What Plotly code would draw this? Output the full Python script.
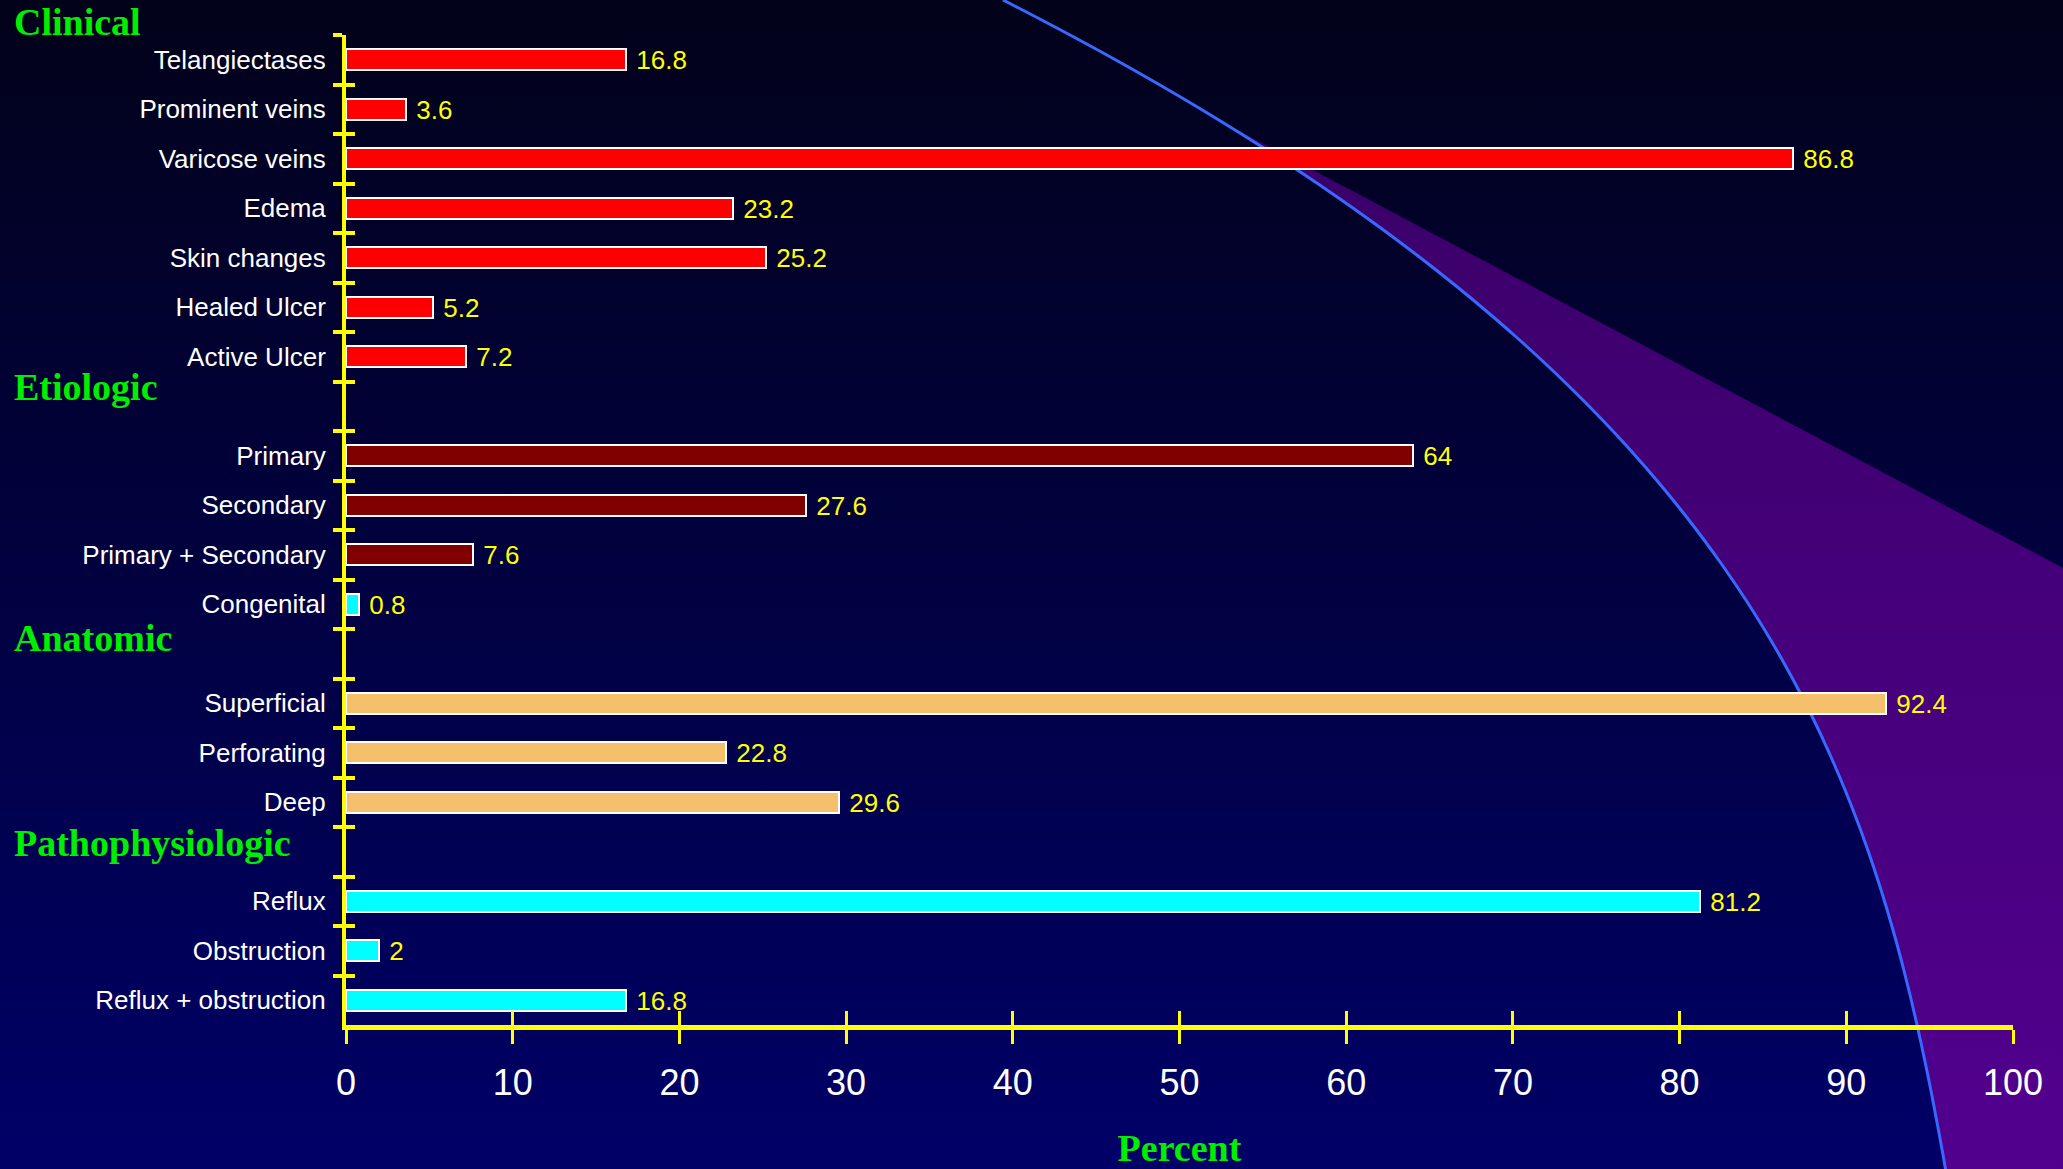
import base64
import numpy as np
import plotly.graph_objects as go

# ---------------- data ----------------
clinical_labels = ["Telangiectases", "Prominent veins", "Varicose veins", "Edema",
                   "Skin changes", "Healed Ulcer", "Active Ulcer"]
clinical_values = [16.8, 3.6, 86.8, 23.2, 25.2, 5.2, 7.2]

etiologic_labels = ["Primary", "Secondary", "Primary + Secondary", "Congenital"]
etiologic_values = [64, 27.6, 7.6, 0.8]

anatomic_labels = ["Superficial", "Perforating", "Deep"]
anatomic_values = [92.4, 22.8, 29.6]

patho_labels = ["Reflux", "Obstruction", "Reflux + obstruction"]
patho_values = [81.2, 2, 16.8]

section_titles = ["Clinical", "Etiologic", "Anatomic", "Pathophysiologic"]
x_ticks = [0, 10, 20, 30, 40, 50, 60, 70, 80, 90, 100]

# ---------------- styles ----------------
RED = "#ff0000"
DARKRED = "#800000"
CYAN = "#00ffff"
PEACH = "#f5c06c"
YELLOW = "#ffff00"
GREEN = "#00ee00"

clinical_colors = [RED] * len(clinical_labels)
etiologic_colors = [DARKRED, DARKRED, DARKRED, CYAN]
anatomic_colors = [PEACH] * len(anatomic_labels)
patho_colors = [CYAN] * len(patho_labels)

W, H = 2063, 1169
ML, MR, MT, MB = 346, 50, 35, 144

# build rows (blank spacer rows between groups)
gaps = [" ", "  ", "   "]
rows, vals, cols = [], [], []
groups = [(clinical_labels, clinical_values, clinical_colors),
          (etiologic_labels, etiologic_values, etiologic_colors),
          (anatomic_labels, anatomic_values, anatomic_colors),
          (patho_labels, patho_values, patho_colors)]
for gi, (lab, val, col) in enumerate(groups):
    if gi > 0:
        rows.append(gaps[gi - 1]); vals.append(None); cols.append(RED)
    rows += lab; vals += val; cols += col

texts = ["" if v is None else "\u00a0" + ("%g" % v) for v in vals]

# ---------------- background art (svg, decorative) ----------------
arc_guide_x = [995, 1113, 1233, 1305, 1380, 1450, 1550, 1617, 1683, 1750, 1812, 1867, 1900, 1922, 1939]
arc_guide_y = [0, 60, 123, 172, 227, 277, 360, 443, 533, 617, 713, 833, 933, 1023, 1169]
coef = np.polyfit(arc_guide_y, arc_guide_x, 3)
ys = np.arange(0, H + 7, 6.0)
xs = np.polyval(coef, ys)
arc_d = "M " + " L ".join("%.1f,%.1f" % (x, y) for x, y in zip(xs, ys))

# purple swoosh: bounded by the arc (from y~121) and a straight edge to the right border
start = int(np.argmax(ys >= 120))
pu_pts = list(zip(xs[start:], ys[start:]))
purple_d = ("M " + " L ".join("%.1f,%.1f" % p for p in pu_pts) +
            f" L {W},{H + 6} L {W},568 Z")

svg = f"""<svg xmlns='http://www.w3.org/2000/svg' width='{W}' height='{H}' viewBox='0 0 {W} {H}'>
<defs>
<linearGradient id='bg' x1='0' y1='0' x2='0' y2='1'>
<stop offset='0' stop-color='#02021a'/><stop offset='1' stop-color='#000068'/></linearGradient>
<linearGradient id='pu' x1='0' y1='0' x2='0' y2='1'>
<stop offset='0' stop-color='#3a0068'/><stop offset='1' stop-color='#52008f'/></linearGradient>
</defs>
<rect x='0' y='0' width='{W}' height='{H}' fill='url(#bg)'/>
<path d='{purple_d}' fill='url(#pu)'/>
<path d='{arc_d}' fill='none' stroke='#3868ff' stroke-width='3' stroke-linejoin='round'/>
</svg>"""
svg_uri = "data:image/svg+xml;base64," + base64.b64encode(svg.encode()).decode()

# ---------------- figure ----------------
fig = go.Figure()
fig.add_trace(go.Bar(
    x=vals, y=rows, orientation="h", width=0.42,
    marker=dict(color=cols, line=dict(color="white", width=2)),
    text=texts, textposition="outside", constraintext="none", cliponaxis=False,
    textfont=dict(color=YELLOW, size=26, family="Liberation Sans, Arial, sans-serif"),
    hoverinfo="skip", showlegend=False,
))
# helper trace for the overlaid (inside) tick axes
fig.add_trace(go.Scatter(
    x=[0] * len(rows), y=rows, xaxis="x2", yaxis="y2", mode="markers",
    marker=dict(opacity=0, size=1), hoverinfo="skip", showlegend=False,
))

pw, ph = W - ML - MR, H - MT - MB

layout_annots = []
sec_y_pix = [22, 387, 638, 843]
for t, yp in zip(section_titles, sec_y_pix):
    layout_annots.append(dict(
        text=t, xref="paper", yref="paper", x=(12 - ML) / pw, y=(H - MB - yp) / ph,
        xanchor="left", yanchor="middle", showarrow=False,
        font=dict(family="Liberation Serif, Times New Roman, serif", size=38,
                  color=GREEN, weight="bold"),
    ))

fig.update_layout(
    width=W, height=H, autosize=False,
    margin=dict(l=ML, r=MR, t=MT, b=MB, pad=0, autoexpand=False),
    paper_bgcolor="#000040", plot_bgcolor="rgba(0,0,0,0)",
    bargap=0, showlegend=False,
    images=[dict(source=svg_uri, xref="paper", yref="paper",
                 x=-ML / pw, y=1 + MT / ph, sizex=W / pw, sizey=H / ph,
                 xanchor="left", yanchor="top", sizing="stretch", layer="below")],
    annotations=layout_annots,
    xaxis=dict(
        range=[0, 100], tickvals=x_ticks, showgrid=False, zeroline=False,
        automargin=False,
        showline=True, linecolor=YELLOW, linewidth=5,
        ticks="outside", ticklen=14, tickwidth=3, tickcolor=YELLOW,
        ticklabelstandoff=8,
        tickfont=dict(color="white", size=36, family="Liberation Sans, Arial, sans-serif"),
        title=dict(text="Percent", standoff=60,
                   font=dict(family="Liberation Serif, Times New Roman, serif", size=38,
                             color=GREEN, weight="bold")),
    ),
    xaxis2=dict(
        overlaying="x", matches="x", anchor="y", side="bottom", automargin=False,
        tickvals=x_ticks, showticklabels=False, showgrid=False, zeroline=False,
        showline=False, ticks="inside", ticklen=14, tickwidth=3, tickcolor=YELLOW,
    ),
    yaxis=dict(
        type="category", categoryorder="array", categoryarray=rows,
        range=[len(rows) - 0.5, -0.5], tickson="boundaries", automargin=False,
        showgrid=False, zeroline=False,
        showline=True, linecolor=YELLOW, linewidth=4,
        ticks="outside", ticklen=9, tickwidth=4, tickcolor=YELLOW,
        ticklabelstandoff=11,
        tickfont=dict(color="white", size=26, family="Liberation Sans, Arial, sans-serif"),
    ),
    yaxis2=dict(
        type="category", categoryorder="array", categoryarray=rows,
        overlaying="y", matches="y", anchor="x", side="left", tickson="boundaries",
        automargin=False,
        showticklabels=False, showgrid=False, zeroline=False, showline=False,
        ticks="inside", ticklen=9, tickwidth=4, tickcolor=YELLOW,
    ),
)

fig.write_html("out.html", config={"displayModeBar": False},
               post_script="document.body.style.margin='0';document.body.style.overflow='hidden';")
